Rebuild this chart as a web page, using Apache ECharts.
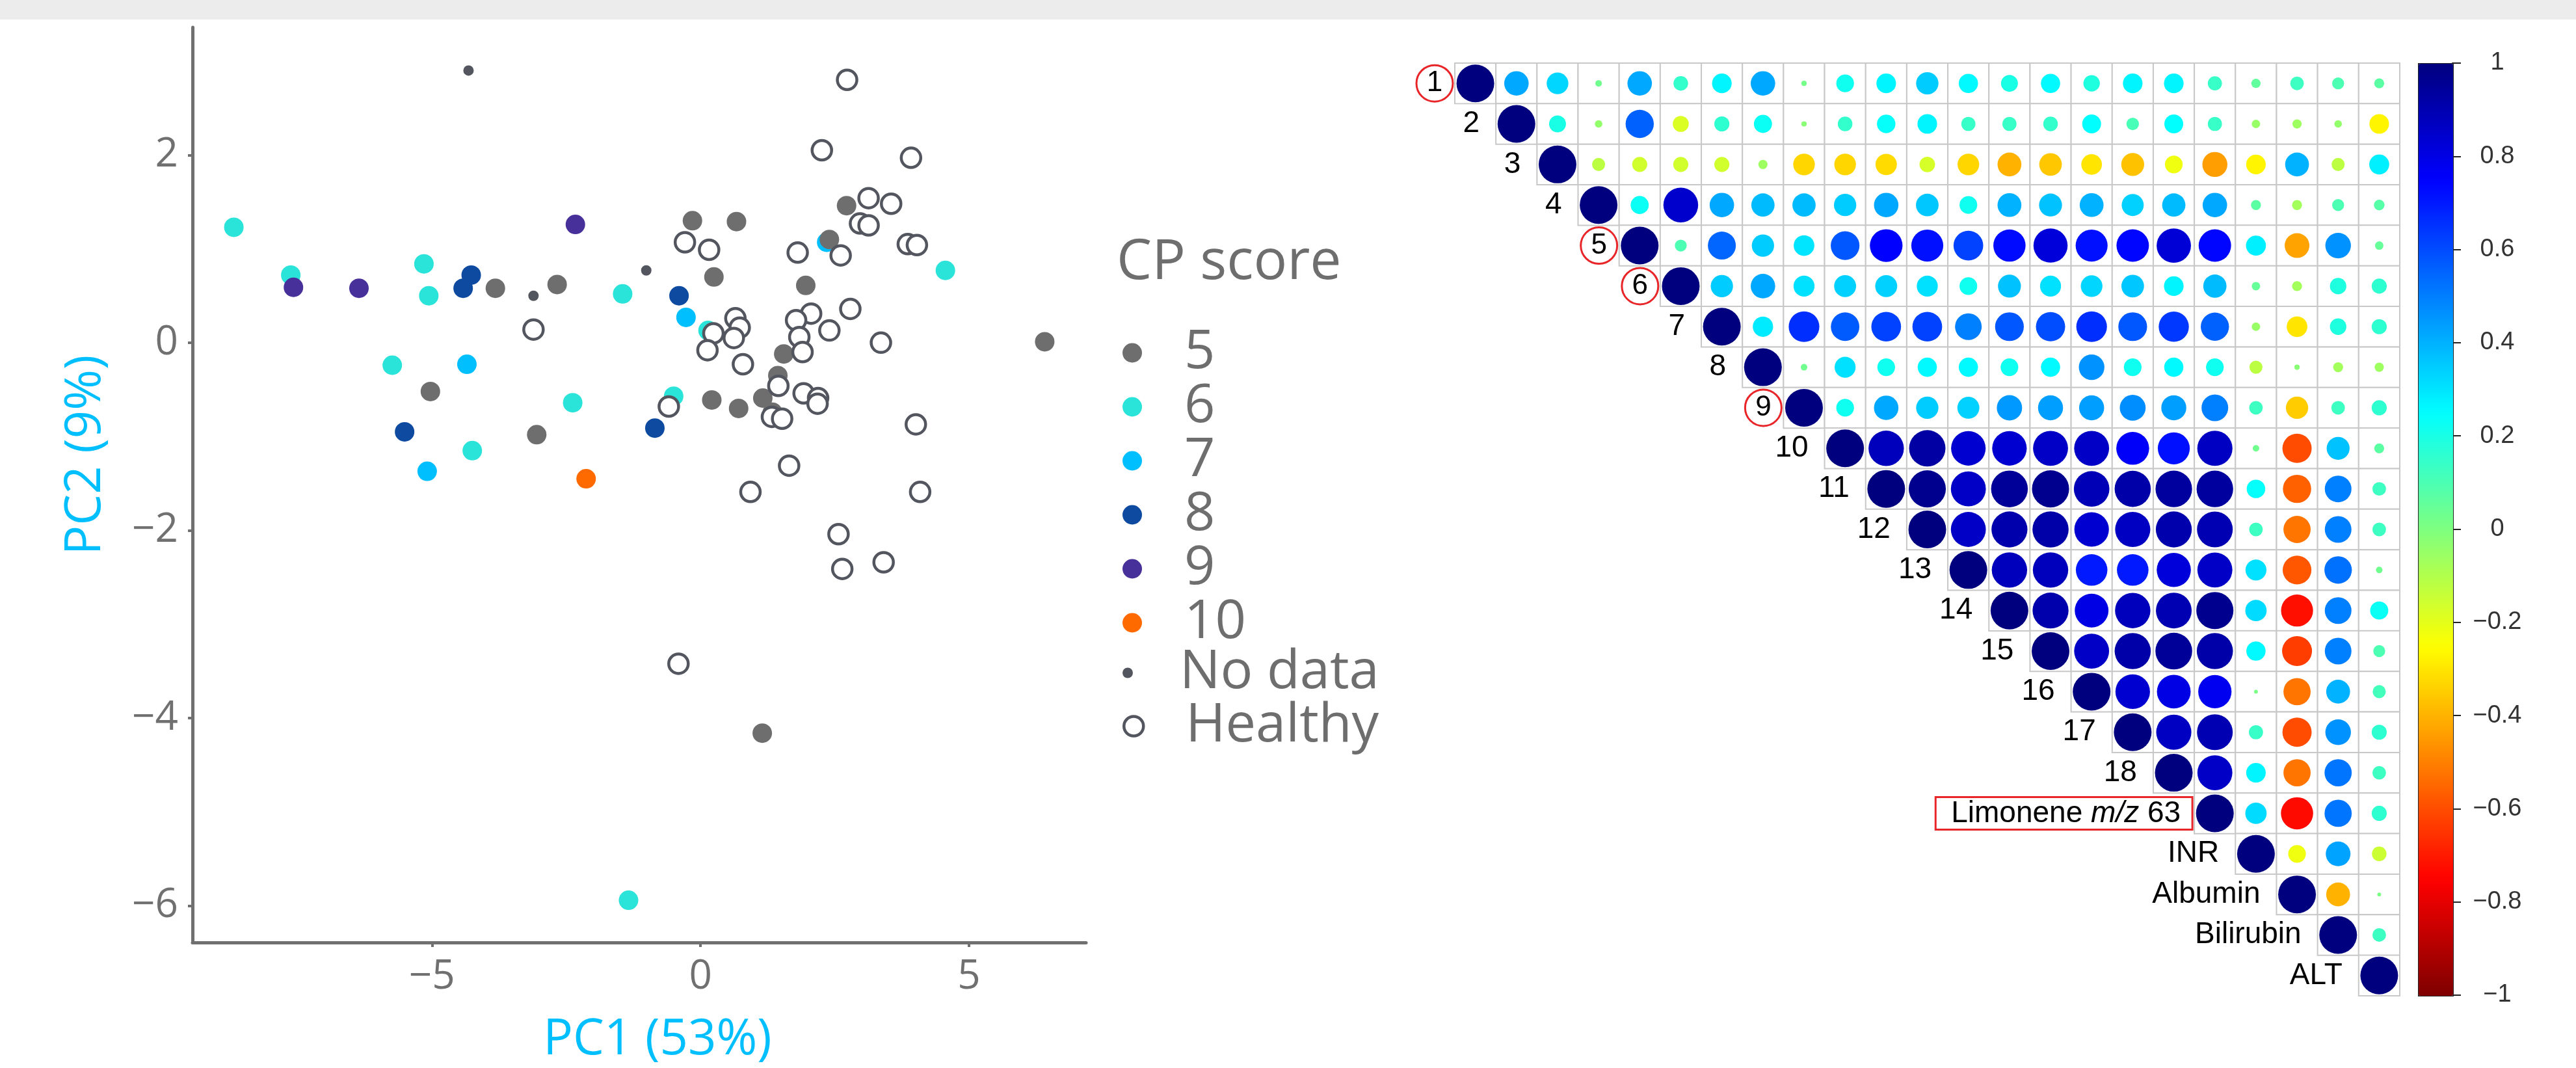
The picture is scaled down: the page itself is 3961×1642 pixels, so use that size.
<!DOCTYPE html>
<html>
<head>
<meta charset="utf-8">
<script src="https://cdn.jsdelivr.net/npm/echarts@6/dist/echarts.min.js"></script>
<style>
  html, body { margin: 0; padding: 0; }
  #main { width: 3961px; height: 1642px; background: linear-gradient(#ececec 0, #ececec 30px, #fff 30px); }
</style>
</head>
<body>
<div id="main"></div>
<script>
// PCA scores
const cp5 = [[-0.15, 1.30], [0.67, 1.29], [2.72, 1.46], [2.40, 1.10], [0.25, 0.70], [1.96, 0.61], [6.41, 0.01],
  [1.55, -0.12], [1.44, -0.35], [0.21, -0.61], [0.71, -0.70], [1.16, -0.59], [1.34, -0.74], [1.15, -4.16],
  [-3.82, 0.58], [-2.67, 0.62], [-5.03, -0.52], [-3.05, -0.98]]
const cp6 = [[-8.69, 1.23], [-7.63, 0.72], [-5.15, 0.84], [-5.06, 0.50], [-1.45, 0.52], [-5.74, -0.24],
  [-2.38, -0.64], [-4.25, -1.15], [4.56, 0.77], [0.14, 0.13], [-0.50, -0.57], [-1.34, -5.94]]
const cp7 = [[-4.35, -0.23], [-5.09, -1.37], [-0.27, 0.27], [2.35, 1.07]]
const cp8 = [[-4.27, 0.72], [-4.42, 0.58], [-5.51, -0.95], [-0.40, 0.50], [-0.85, -0.91]]
const cp9 = [[-7.58, 0.59], [-6.36, 0.58], [-2.33, 1.26]]
const cp10 = [[-2.13, -1.45]]
const noData = [[-4.32, 2.90], [-3.11, 0.50], [-1.01, 0.77]]
const healthy = [[2.73, 2.80], [2.26, 2.05], [3.92, 1.97], [3.13, 1.54], [3.55, 1.48], [2.97, 1.27], [3.13, 1.25],
  [3.86, 1.05], [4.03, 1.04], [-0.29, 1.07], [0.16, 0.99], [1.81, 0.96], [2.61, 0.93], [2.79, 0.36], [2.06, 0.31],
  [1.78, 0.24], [0.65, 0.26], [0.73, 0.16], [0.24, 0.10], [0.62, 0.05], [0.13, -0.08], [1.84, 0.06], [2.40, 0.13],
  [3.36, 0.00], [1.90, -0.10], [0.79, -0.23], [1.45, -0.46], [1.92, -0.54], [2.19, -0.59], [2.18, -0.65],
  [1.33, -0.79], [1.52, -0.81], [-0.59, -0.68], [4.01, -0.87], [1.65, -1.31], [0.93, -1.59], [4.09, -1.59],
  [2.57, -2.04], [2.64, -2.41], [3.41, -2.34], [-0.41, -3.42], [-3.11, 0.14]]
const pcXTicks = [-5, 0, 5]
const pcYTicks = [-6, -4, -2, 0, 2]

// correlation matrix, upper triangle row by row (diagonal = 1)
const varNames = ['1', '2', '3', '4', '5', '6', '7', '8', '9', '10', '11', '12', '13', '14', '15', '16', '17', '18',
  'Limonene m/z 63', 'INR', 'Albumin', 'Bilirubin', 'ALT']
const circledNames = ['1', '5', '6', '9']
const corrUpper = [
  [0.42, 0.33, 0.03, 0.42, 0.15, 0.27, 0.42, 0.02, 0.22, 0.27, 0.35, 0.26, 0.2, 0.26, 0.19, 0.27, 0.27, 0.14, 0.06, 0.13, 0.1, 0.07],
  [0.2, -0.04, 0.56, -0.18, 0.16, 0.23, -0.02, 0.15, 0.24, 0.27, 0.14, 0.14, 0.15, 0.25, 0.11, 0.25, 0.14, -0.05, -0.06, -0.04, -0.27],
  [-0.12, -0.16, -0.16, -0.16, -0.06, -0.33, -0.33, -0.32, -0.17, -0.33, -0.4, -0.36, -0.3, -0.37, -0.22, -0.44, -0.27, 0.4, -0.12, 0.28],
  [0.23, 0.85, 0.42, 0.38, 0.38, 0.35, 0.42, 0.36, 0.22, 0.4, 0.37, 0.4, 0.34, 0.38, 0.42, 0.07, -0.07, 0.1, 0.08],
  [0.1, 0.55, 0.35, 0.3, 0.58, 0.75, 0.72, 0.62, 0.73, 0.82, 0.72, 0.74, 0.83, 0.74, 0.28, -0.43, 0.46, 0.05],
  [0.35, 0.42, 0.31, 0.34, 0.34, 0.31, 0.22, 0.37, 0.31, 0.33, 0.36, 0.27, 0.38, 0.05, -0.07, 0.19, 0.16],
  [0.29, 0.66, 0.57, 0.62, 0.62, 0.5, 0.58, 0.6, 0.66, 0.58, 0.64, 0.56, -0.05, -0.3, 0.19, 0.16],
  [0.03, 0.31, 0.22, 0.26, 0.26, 0.22, 0.26, 0.46, 0.22, 0.26, 0.22, -0.12, -0.02, -0.07, -0.06],
  [0.22, 0.42, 0.35, 0.34, 0.45, 0.44, 0.44, 0.47, 0.44, 0.5, 0.13, -0.35, 0.13, 0.16],
  [0.88, 0.93, 0.84, 0.84, 0.86, 0.86, 0.76, 0.72, 0.87, 0.03, -0.6, 0.37, 0.07],
  [0.97, 0.86, 0.95, 0.97, 0.89, 0.92, 0.94, 0.94, 0.24, -0.56, 0.5, 0.13],
  [0.86, 0.91, 0.92, 0.84, 0.87, 0.91, 0.9, 0.13, -0.52, 0.5, 0.13],
  [0.88, 0.88, 0.7, 0.7, 0.82, 0.86, 0.31, -0.58, 0.53, 0.03],
  [0.91, 0.8, 0.88, 0.9, 0.97, 0.32, -0.72, 0.5, 0.23],
  [0.86, 0.92, 0.95, 0.92, 0.26, -0.63, 0.5, 0.1],
  [0.84, 0.8, 0.78, 0.01, -0.52, 0.4, 0.12],
  [0.87, 0.9, 0.14, -0.6, 0.46, 0.16],
  [0.86, 0.27, -0.52, 0.52, 0.13],
  [0.32, -0.73, 0.52, 0.16],
  [-0.22, 0.43, -0.15],
  [-0.4, 0.01],
  [0.13]
]
const jetColors = ['#7F0000', '#FF0000', '#FF7F00', '#FFFF00', '#7FFF7F', '#00FFFF', '#007FFF', '#0000FF', '#00007F']

const gray = '#6d6e6d'
const minus = v => String(v).replace('-', '\u2212')

function rowLabel(i) {
  const name = varNames[i]
  if (circledNames.includes(name)) {
    return {show: true, distance: 2, formatter: '{c|' + name + '}'}
  }
  if (i === 18) {
    return {
      show: true, distance: 2, formatter: 'Limonene {i|m/z} 63',
      borderColor: '#e8262a', borderWidth: 3, padding: [3, 18, 1, 24]
    }
  }
  return {show: true, distance: 24, formatter: name}
}

const corrData = []
const cellData = []
varNames.forEach((name, i) => {
  corrData.push([i, i, 1])
  ;(corrUpper[i] || []).forEach((r, k) => corrData.push([i + k + 1, i, r]))
  for (let j = i; j < varNames.length; j++) {
    cellData.push(j === i ? {value: [j, i], label: rowLabel(i)} : [j, i])
  }
})

// hollow markers drawn as white circles with a thick ring (emptyCircle forces a 2px ring)
function cpSeries(name, data, color, size, hollow) {
  return {
    name: name, type: 'scatter', xAxisIndex: 0, yAxisIndex: 0,
    data: data, symbol: 'circle', symbolSize: size || 30,
    itemStyle: hollow
      ? {color: '#fff', borderColor: color, borderWidth: 4.5, opacity: 1}
      : {color: color, opacity: 1}
  }
}

const legendBase = {
  orient: 'vertical', left: 1721, itemWidth: 150, itemGap: 0,
  textStyle: {fontSize: 83, color: gray, fontFamily: 'Open Sans', lineHeight: 82},
  selectedMode: false
}

const chart = echarts.init(document.getElementById('main'))
chart.setOption({
  animation: false,
  textStyle: {fontFamily: 'Open Sans'},
  title: {
    text: 'CP score', left: 1712, top: 356,
    textStyle: {fontSize: 86, fontWeight: 'normal', color: gray, fontFamily: 'Open Sans'}
  },
  legend: [
    Object.assign({}, legendBase, {top: 496, itemHeight: 30, data: ['5', '6', '7', '8', '9', '10']}),
    Object.assign({}, legendBase, {top: 988, itemHeight: 16, data: ['No data']}),
    Object.assign({}, legendBase, {
      top: 1070, itemHeight: 30, data: ['Healthy'],
      itemStyle: {color: '#fff', borderColor: '#53565e', borderWidth: 4.5}
    })
  ],
  grid: [
    {left: 296, top: 42, width: 1374, height: 1408},
    {left: 2237, top: 97, width: 1453, height: 1434},
    {left: 3718, top: 97, width: 53, height: 1433}
  ],
  xAxis: [
    {
      gridIndex: 0, type: 'value', min: -9.46, max: 7.18,
      axisLine: {onZero: false, lineStyle: {color: '#707070', width: 5}},
      axisTick: {show: true, customValues: pcXTicks, length: 7, lineStyle: {color: '#707070', width: 4}},
      axisLabel: {customValues: pcXTicks, color: '#707070', fontSize: 62, margin: 22, formatter: minus},
      splitLine: {show: false},
      name: 'PC1 (53%)', nameLocation: 'middle', nameGap: 112,
      nameTextStyle: {color: '#00bfff', fontSize: 76, padding: [0, 0, 0, 56]}
    },
    {gridIndex: 1, type: 'category', data: varNames, show: false},
    {gridIndex: 2, type: 'value', show: false}
  ],
  yAxis: [
    {
      gridIndex: 0, type: 'value', min: -6.39, max: 3.36,
      axisLine: {show: true, onZero: false, lineStyle: {color: '#707070', width: 5}},
      axisTick: {show: true, customValues: pcYTicks, length: 7, lineStyle: {color: '#707070', width: 4}},
      axisLabel: {customValues: pcYTicks, color: '#707070', fontSize: 62, margin: 22, formatter: minus},
      splitLine: {show: false},
      name: 'PC2 (9%)', nameLocation: 'middle', nameGap: 126,
      nameTextStyle: {color: '#00bfff', fontSize: 76, padding: [0, 0, 0, 92]}
    },
    {gridIndex: 1, type: 'category', data: varNames, inverse: true, show: false},
    {
      gridIndex: 2, type: 'value', min: -1, max: 1, interval: 0.2, position: 'right',
      axisLine: {show: true, onZero: false, lineStyle: {color: '#222', width: 2}},
      axisTick: {show: true, length: 13, lineStyle: {color: '#222', width: 2}},
      axisLabel: {
        align: 'center', margin: 69, fontSize: 38, color: '#333', fontFamily: 'Liberation Sans',
        formatter: v => minus(Math.round(v * 10) / 10)
      },
      splitLine: {show: false}
    }
  ],
  visualMap: {
    type: 'continuous', seriesIndex: 9, dimension: 2, min: -1, max: 1,
    left: 3718, top: 97, itemWidth: 53, itemHeight: 1433, padding: 0,
    calculable: false, hoverLink: false, text: null,
    borderColor: '#222', borderWidth: 2,
    inRange: {color: jetColors}
  },
  series: [
    cpSeries('6', cp6, '#2ae3d9'),
    cpSeries('7', cp7, '#00bfff'),
    cpSeries('8', cp8, '#0d4aa0'),
    cpSeries('9', cp9, '#48309a'),
    cpSeries('10', cp10, '#ff6a00'),
    cpSeries('5', cp5, gray),
    cpSeries('No data', noData, '#53565e', 16),
    cpSeries('Healthy', healthy, '#53565e', 30, true),
    {
      type: 'scatter', xAxisIndex: 1, yAxisIndex: 1, silent: true,
      symbol: 'rect', symbolSize: [63.2, 62.4],
      itemStyle: {color: '#fff', borderColor: '#c8c8c8', borderWidth: 2, opacity: 1},
      label: {
        show: false, position: 'left', fontSize: 46, color: '#000', fontFamily: 'Liberation Sans',
        rich: {
          c: {
            width: 56, height: 56, lineHeight: 56, align: 'center', fontSize: 44,
            borderColor: '#e8262a', borderWidth: 3, borderRadius: 31
          },
          i: {fontStyle: 'italic', fontSize: 46, fontFamily: 'Liberation Sans'}
        }
      },
      data: cellData
    },
    {
      type: 'scatter', xAxisIndex: 1, yAxisIndex: 1, silent: true,
      symbolSize: val => 58 * Math.sqrt(Math.abs(val[2])),
      itemStyle: {opacity: 1},
      data: corrData
    }
  ]
})
</script>
</body>
</html>
